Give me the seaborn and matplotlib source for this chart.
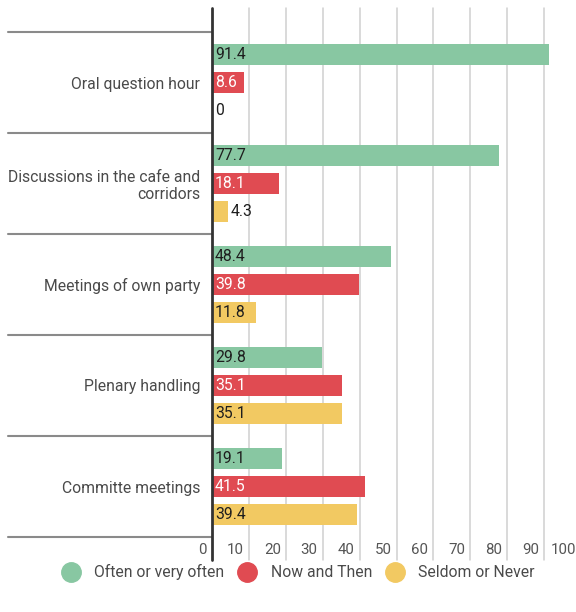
import matplotlib
matplotlib.use("Agg")
import matplotlib.pyplot as plt
import matplotlib.transforms as mtransforms
from matplotlib.lines import Line2D
import seaborn as sns
import pandas as pd

categories = ["Oral question hour", "Discussions in the cafe and\ncorridors",
              "Meetings of own party", "Plenary handling", "Committe meetings"]
series = ["Often or very often", "Now and Then", "Seldom or Never"]
often = [91.4, 77.7, 48.4, 29.8, 19.1]
now_then = [8.6, 18.1, 39.8, 35.1, 41.5]
seldom = [0, 4.3, 11.8, 35.1, 39.4]
ticks = [0, 10, 20, 30, 40, 50, 60, 70, 80, 90, 100]
tick_labels = ["0", "10", "20", "30", "40", "50", "60", "70", "80", "90", "100"]
colors = ["#88C7A2", "#E04B52", "#F2C962"]

rows = []
for s, vals in zip(series, [often, now_then, seldom]):
    for c, v in zip(categories, vals):
        rows.append({"category": c, "series": s, "value": v})
df = pd.DataFrame(rows)

sns.set_theme(style="white")
plt.rcParams["font.family"] = ["Roboto", "DejaVu Sans"]

W, H = 576, 612
fig = plt.figure(figsize=(W / 100, H / 100), dpi=100)
ax_l, ax_r, ax_t, ax_b = 212, 581, 8, 537
ax = fig.add_axes([ax_l / W, 1 - ax_b / H, (ax_r - ax_l) / W, (ax_b - ax_t) / H])

sns.barplot(data=df, y="category", x="value", hue="series", palette=colors,
            orient="h", width=0.83, gap=0.25, legend=False, ax=ax,
            saturation=1, edgecolor="none", linewidth=0)

extra = 24 / 101
ax.set_ylim(4.5, -0.5 - extra)
ax.set_xlim(0, 100)
for sp in ax.spines.values():
    sp.set_visible(False)
ax.set_xlabel("")
ax.set_ylabel("")

# vertical gridlines extending below axis
ax_h_px = ax_b - ax_t
ext = 23 / ax_h_px
grid_c = "#CFCFCF"
for t in ticks[1:]:
    ax.plot([t, t], [-ext, 1], color=grid_c, lw=1.1,
            transform=ax.get_xaxis_transform(), clip_on=False, zorder=0)
ax.plot([0, 0], [-ext, 1], color="#333333", lw=2,
        transform=ax.get_xaxis_transform(), clip_on=False, zorder=5)
ax.set_xticks([])

# tick labels left of gridlines
off = mtransforms.offset_copy(ax.get_xaxis_transform(), fig=fig, x=-5, y=0, units="dots")
for t, lab in zip(ticks, tick_labels):
    ax.text(t, -13 / ax_h_px, lab, transform=off, ha="right", va="center",
            fontsize=10.8, color="#555555")

# category separator lines in the label area
blend = mtransforms.blended_transform_factory(ax.transAxes, ax.transData)
for b in [-0.5, 0.5, 1.5, 2.5, 3.5, 4.5]:
    ax.plot([-(ax_l - 8) / (ax_r - ax_l), 0], [b, b], color="#8A8A8A", lw=1.5,
            transform=blend, clip_on=False, zorder=1)

# category labels
ax.set_yticks(range(len(categories)))
ax.set_yticklabels(categories, fontsize=11.3, color="#4A4A4A")
ax.tick_params(axis="y", length=0, pad=8.5)

# value labels
for cont, vals in zip(ax.containers, [often, now_then, seldom]):
    for bar, v in zip(cont, vals):
        yc = bar.get_y() + bar.get_height() / 2
        tr = mtransforms.offset_copy(ax.transData, fig=fig, x=3, y=0, units="dots")
        if v >= 6:
            col = "white" if cont is ax.containers[1] else "#1E1E1E"
            ax.text(0, yc, f"{v:g}", transform=tr, ha="left", va="center",
                    fontsize=11.3, color=col, zorder=6)
        else:
            ax.text(v, yc, f"{v:g}", transform=tr, ha="left", va="center",
                    fontsize=11.3, color="#1E1E1E", zorder=6)

handles = [Line2D([0], [0], marker="o", linestyle="none", markersize=14,
                  markerfacecolor=c, markeredgecolor=c) for c in colors]
leg = fig.legend(handles, series, loc="center", bbox_to_anchor=(295 / W, 1 - 572 / H),
                 ncol=3, frameon=False, fontsize=11.3, handletextpad=0.5,
                 columnspacing=0.45)
for txt in leg.get_texts():
    txt.set_color("#4A4A4A")

fig.savefig("out.png", dpi=100)
